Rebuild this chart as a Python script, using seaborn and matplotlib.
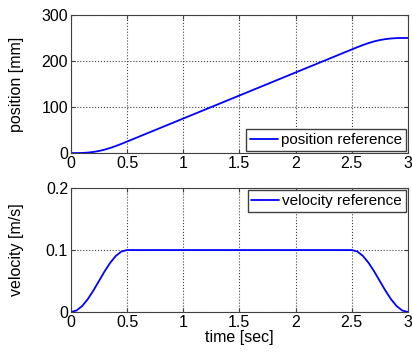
import matplotlib
matplotlib.use("Agg")
import matplotlib.pyplot as plt
import numpy as np
import pandas as pd
import seaborn as sns

# values
t_pos = [0, 0.05, 0.1, 0.15, 0.2, 0.25, 0.3, 0.35, 0.4, 0.45, 0.5,
         1.0, 1.5, 2.0, 2.5,
         2.55, 2.6, 2.65, 2.7, 2.75, 2.8, 2.85, 2.9, 2.95, 3.0]
position = [0, 0.04, 0.32, 1.06, 2.43, 4.54, 7.43, 11.06, 15.32, 20.04, 25.0,
            75.0, 125.0, 175.0, 225.0,
            229.96, 234.68, 238.94, 242.57, 245.46, 247.57, 248.94, 249.68, 249.96, 250.0]

t_vel = [0, 0.05, 0.1, 0.15, 0.2, 0.25, 0.3, 0.35, 0.4, 0.45, 0.5,
         2.5, 2.55, 2.6, 2.65, 2.7, 2.75, 2.8, 2.85, 2.9, 2.95, 3.0]
velocity = [0, 0.0024, 0.0095, 0.0206, 0.0345, 0.05, 0.0655, 0.0794, 0.0905, 0.0976, 0.1,
            0.1, 0.0976, 0.0905, 0.0794, 0.0655, 0.05, 0.0345, 0.0206, 0.0095, 0.0024, 0]

x_ticks = [0, 0.5, 1, 1.5, 2, 2.5, 3]
x_labels = ["0", "0.5", "1", "1.5", "2", "2.5", "3"]
pos_ticks = [0, 100, 200, 300]
vel_ticks = [0, 0.1, 0.2]
vel_labels = ["0", "0.1", "0.2"]

df_pos = pd.DataFrame({"time": t_pos, "position": position})
df_vel = pd.DataFrame({"time": t_vel, "velocity": velocity})

sns.set_style("ticks", {"text.color": "black", "xtick.color": "black",
                        "ytick.color": "black", "axes.labelcolor": "black"})
plt.rcParams["font.family"] = ["Liberation Sans", "DejaVu Sans"]
plt.rcParams["font.size"] = 11

fig = plt.figure(figsize=(4.12, 3.56), dpi=100)
ax1 = fig.add_axes([0.172, 0.570, 0.818, 0.388])
ax2 = fig.add_axes([0.172, 0.1236, 0.818, 0.348])

sns.lineplot(data=df_pos, x="time", y="position", ax=ax1, color="#0000ff",
             linewidth=1.3, label="position reference")
sns.lineplot(data=df_vel, x="time", y="velocity", ax=ax2, color="#0000ff",
             linewidth=1.3, label="velocity reference")

for ax in (ax1, ax2):
    ax.set_xlim(0, 3)
    ax.set_xticks(x_ticks)
    ax.set_xticklabels(x_labels)
    ax.grid(True, linestyle=":", color="#404040", linewidth=0.8)
    ax.tick_params(direction="in", length=3, top=True, right=True,
                   labelsize=11.5, pad=2, color="#404040", labelcolor="black")
    for s in ax.spines.values():
        s.set_visible(True)
        s.set_color("#404040")
        s.set_linewidth(0.8)

ax1.set_ylim(0, 300)
ax1.set_yticks(pos_ticks)
ax1.set_xlabel("")
ax1.set_ylabel("position [mm]", fontsize=11.5, color="black")
ax1.legend(loc="lower right", fontsize=11, frameon=True, fancybox=False,
           edgecolor="#404040", framealpha=1, handlelength=1.8,
           handletextpad=0.2, borderpad=0.25, borderaxespad=0.15)

ax2.set_ylim(0, 0.2)
ax2.set_yticks(vel_ticks)
ax2.set_yticklabels(vel_labels)
ax2.set_xlabel("time [sec]", fontsize=11.5, labelpad=0, color="black")
ax2.set_ylabel("velocity [m/s]", fontsize=11.5, color="black")
ax2.legend(loc="upper right", fontsize=11, frameon=True, fancybox=False,
           edgecolor="#404040", framealpha=1, handlelength=1.8,
           handletextpad=0.2, borderpad=0.25, borderaxespad=0.15)

ax1.yaxis.set_label_coords(-0.14, 0.5)
ax2.yaxis.set_label_coords(-0.14, 0.5)

fig.savefig("out.png", dpi=100)
